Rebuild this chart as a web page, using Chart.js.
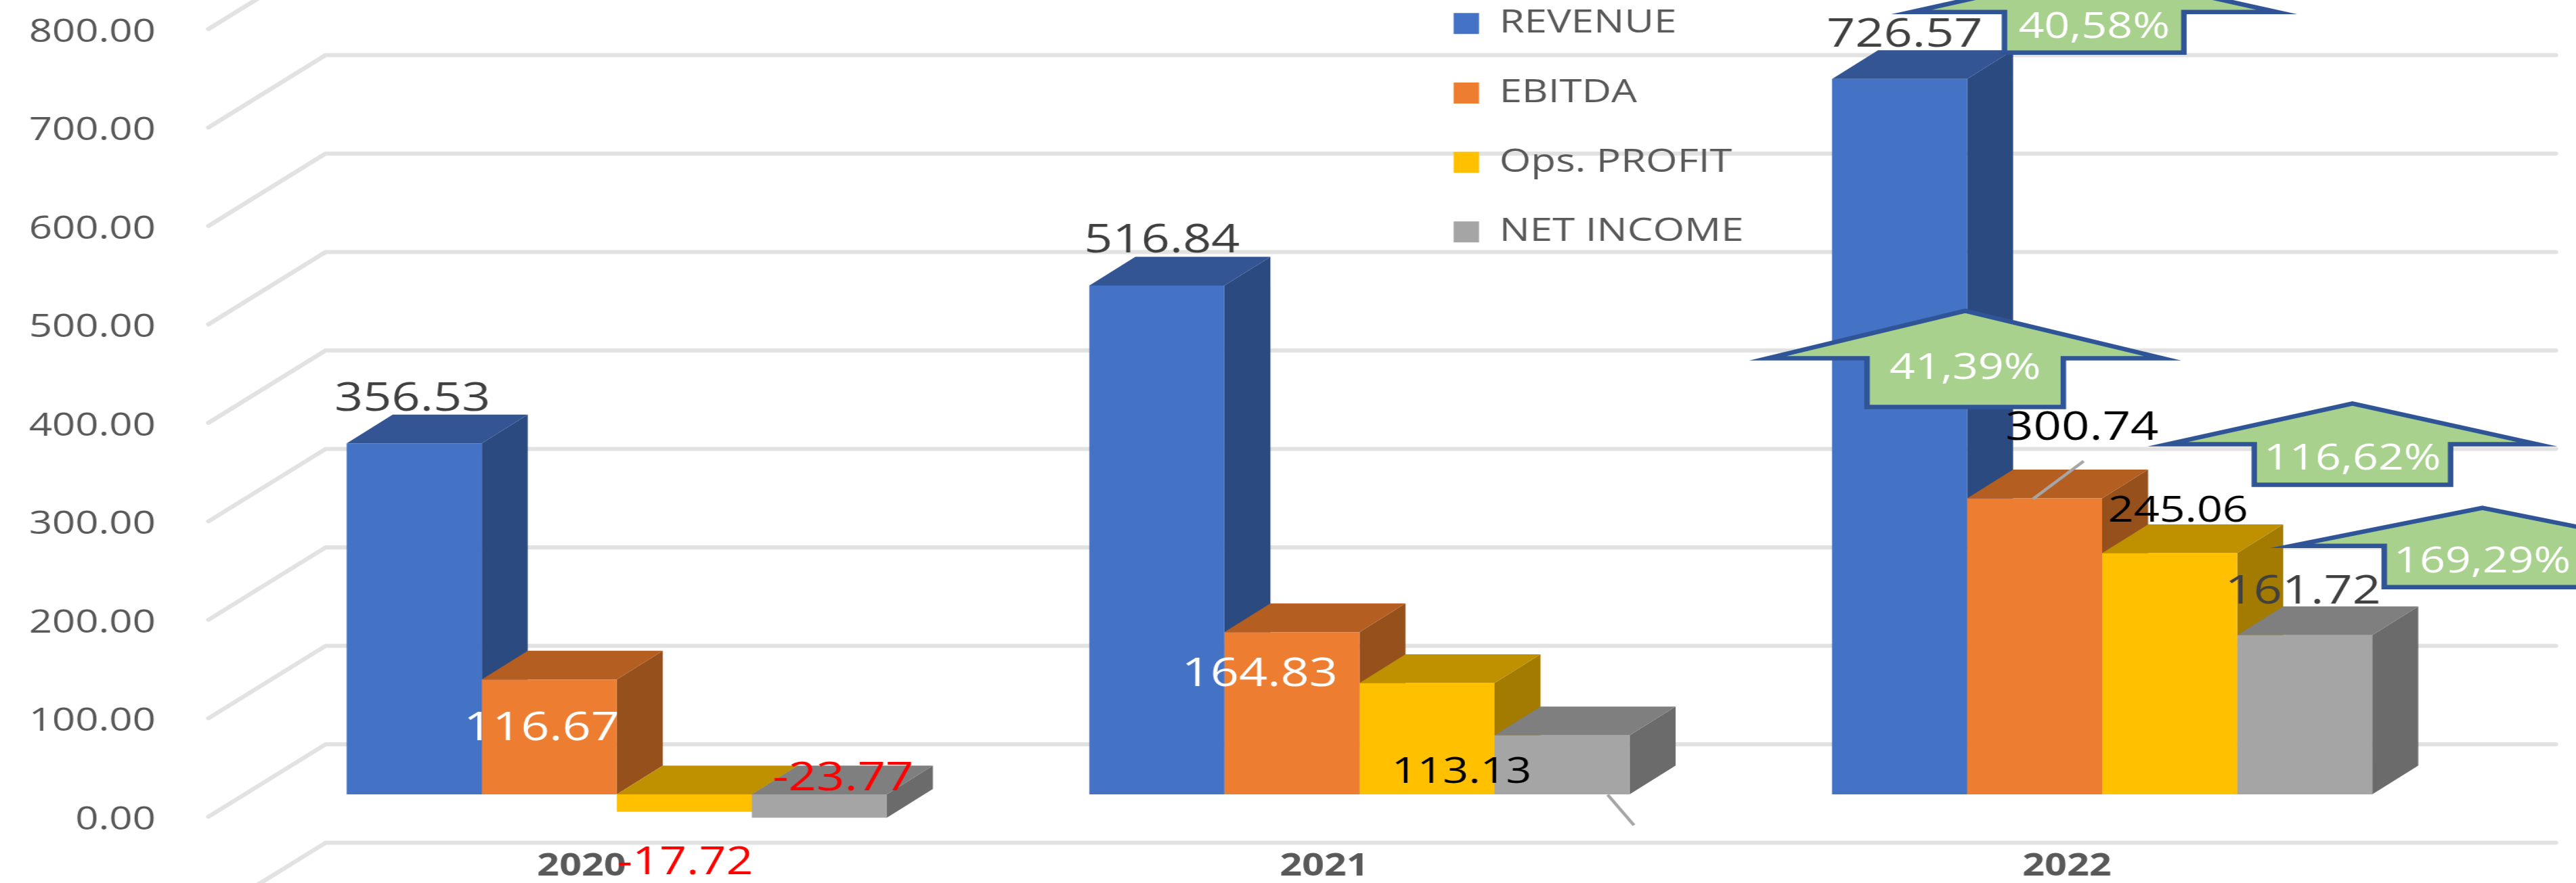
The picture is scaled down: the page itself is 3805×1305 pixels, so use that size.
<!DOCTYPE html>
<html lang="en">
<head>
    <meta charset="UTF-8">
    <title>Revenue, EBITDA, Ops. Profit, Net Income</title>
    <script src="https://cdn.jsdelivr.net/npm/chart.js"></script>
    <style>
        html, body { margin: 0; background: #fff; overflow: hidden; }
        /* the reference is a stretched picture, so the whole canvas is stretched too */
        #chart { display: block; transform: scaleX(1.25); transform-origin: 0 0; }
    </style>
</head>
<body>
<canvas id="chart" width="3044" height="1305"></canvas>

<script>
    const years = ['2020', '2021', '2022'];
    const seriesNames = ['REVENUE', 'EBITDA', 'Ops. PROFIT', 'NET INCOME'];
    const revenue = [356.53, 516.84, 726.57];
    const ebitda = [116.67, 164.83, 300.74];
    const opsProfit = [-17.72, 113.13, 245.06];
    const netIncome = [-23.77, 60, 161.72];   // 2021 has no label in the picture
    const callouts = ['40,58%', '41,39%', '116,62%', '169,29%'];
    const gridValues = [-100, 0, 100, 200, 300, 400, 500, 600, 700, 800];

    const frontColors = ['#4472C4', '#ED7D31', '#FFC000', '#A5A5A5'];
    const topColors = ['#335593', '#B45E22', '#BF9000', '#7F7F7F'];
    const sideColors = ['#2A4A80', '#96501C', '#A37B00', '#6B6B6B'];

    const FONT = '"Open Sans"';
    const DEPTH_X = 54.4;
    const DEPTH_Y = 42.5;

    // per series, per year: label colour, size and shift from the bar top (null = no label)
    const labelColors = [
        ['#404040', '#404040', '#404040'],
        ['#FFFFFF', '#FFFFFF', '#000000'],
        ['#FF0000', '#000000', '#000000'],
        ['#FF0000', null, '#404040']
    ];
    const labelSizes = [
        [59, 59, 59],
        [59, 59, 58],
        [56, 53, 53],
        [58, null, 59]
    ];
    const labelShifts = [
        [[-2, -65], [6, -66], [6, -65]],
        [[-9, 73], [-38, 63], [56, -103]],
        [[1, 76], [41, 133], [10, -62]],
        [[28, -57], null, [-2, -64]]
    ];
    // leader lines: series, year, then both ends relative to the bar top
    const leaders = [
        [3, 1, 54, 88, 85, 133],
        [1, 2, -2, 1, 58, -55]
    ];
    // green arrows, all on the 2022 bars
    const arrowStyles = [
        {series: 0, dx: 230, tip: -159, halfHead: 216, halfShaft: 106, head: 60, shaft: 60, text: 23},
        {series: 1, dx: -82, tip: -277, halfHead: 233, halfShaft: 116, head: 70, shaft: 72, text: 15},
        {series: 2, dx: 216, tip: -221, halfHead: 218, halfShaft: 116, head: 60, shaft: 60, text: 22},
        {series: 3, dx: 210, tip: -188, halfHead: 225, halfShaft: 116, head: 56, shaft: 61, text: 24}
    ];

    function polygon(ctx, color, points) {
        ctx.fillStyle = color;
        ctx.beginPath();
        points.forEach((p, i) => i ? ctx.lineTo(p[0], p[1]) : ctx.moveTo(p[0], p[1]));
        ctx.closePath();
        ctx.fill();
    }

    // floor/wall lines: start at the tick label, run back in depth, then along the wall
    const wallGrid = {
        id: 'wallGrid',
        beforeDraw(chart) {
            const ctx = chart.ctx;
            const wall = chart.scales.yWall;
            ctx.save();
            ctx.strokeStyle = '#E2E2E2';
            ctx.lineWidth = 6;
            ctx.lineCap = 'round';
            ctx.lineJoin = 'round';
            gridValues.forEach(v => {
                const y = wall.getPixelForValue(v);
                ctx.beginPath();
                ctx.moveTo(246.4, y);
                ctx.lineTo(384.8, y - 107);
                ctx.lineTo(3020, y - 107);
                ctx.stroke();
            });
            ctx.restore();
        }
    };

    // top and side faces behind the flat bars that chart.js draws
    const barFaces = {
        id: 'barFaces',
        beforeDatasetsDraw(chart) {
            const ctx = chart.ctx;
            chart.data.datasets.forEach((ds, s) => {
                chart.getDatasetMeta(s).data.forEach(bar => {
                    const left = bar.x - bar.width / 2;
                    const right = bar.x + bar.width / 2;
                    const top = Math.min(bar.y, bar.base);
                    const bottom = Math.max(bar.y, bar.base);
                    polygon(ctx, sideColors[s], [[right, top], [right + DEPTH_X, top - DEPTH_Y],
                        [right + DEPTH_X, bottom - DEPTH_Y], [right, bottom]]);
                    polygon(ctx, topColors[s], [[left, top], [right, top],
                        [right + DEPTH_X, top - DEPTH_Y], [left + DEPTH_X, top - DEPTH_Y]]);
                });
            });
        }
    };

    const annotations = {
        id: 'annotations',
        afterDatasetsDraw(chart) {
            const ctx = chart.ctx;
            ctx.save();

            ctx.strokeStyle = '#A6A6A6';
            ctx.lineWidth = 4;
            leaders.forEach(l => {
                const bar = chart.getDatasetMeta(l[0]).data[l[1]];
                ctx.beginPath();
                ctx.moveTo(bar.x + l[2], bar.y + l[3]);
                ctx.lineTo(bar.x + l[4], bar.y + l[5]);
                ctx.stroke();
            });

            ctx.textAlign = 'center';
            ctx.textBaseline = 'middle';

            arrowStyles.forEach((a, i) => {
                const bar = chart.getDatasetMeta(a.series).data[2];
                const cx = bar.x + a.dx;
                const tip = bar.y + a.tip;
                const base = tip + a.head;
                const end = base + a.shaft;
                ctx.beginPath();
                ctx.moveTo(cx, tip);
                ctx.lineTo(cx + a.halfHead, base);
                ctx.lineTo(cx + a.halfShaft, base);
                ctx.lineTo(cx + a.halfShaft, end);
                ctx.lineTo(cx - a.halfShaft, end);
                ctx.lineTo(cx - a.halfShaft, base);
                ctx.lineTo(cx - a.halfHead, base);
                ctx.closePath();
                ctx.fillStyle = '#A9D18E';
                ctx.fill();
                ctx.strokeStyle = '#2F5597';
                ctx.lineWidth = 6.5;
                ctx.stroke();
                ctx.fillStyle = '#FFFFFF';
                ctx.font = '53px ' + FONT;
                ctx.fillText(callouts[i], cx, base + a.text);
            });

            chart.data.datasets.forEach((ds, s) => {
                chart.getDatasetMeta(s).data.forEach((bar, i) => {
                    if (!labelColors[s][i]) return;
                    ctx.fillStyle = labelColors[s][i];
                    ctx.font = labelSizes[s][i] + 'px ' + FONT;
                    ctx.fillText(ds.data[i].toFixed(2), bar.x + labelShifts[s][i][0], bar.y + labelShifts[s][i][1]);
                });
            });
            ctx.restore();
        }
    };

    // legend floats over the wall at a fixed place
    const legendPlace = {
        id: 'legendPlace',
        afterLayout(chart) {
            chart.legend.left = 1663;
            chart.legend.top = -44;
            chart.legend.bottom = 1305;
        }
    };

    function noPadding(scale) {
        scale.paddingTop = scale.paddingBottom = scale.paddingLeft = scale.paddingRight = 0;
    }

    new Chart(document.getElementById('chart'), {
        type: 'bar',
        data: {
            labels: years,
            datasets: [revenue, ebitda, opsProfit, netIncome].map((values, i) => ({
                label: seriesNames[i],
                data: values,
                backgroundColor: frontColors[i],
                borderWidth: 0,
                yAxisID: 'y',
                categoryPercentage: 0.7274,
                barPercentage: 1
            }))
        },
        plugins: [wallGrid, barFaces, annotations, legendPlace],
        options: {
            responsive: false,
            animation: false,
            layout: {padding: {left: 0, top: 0, bottom: 0, right: 121.2}},
            plugins: {
                tooltip: {enabled: false},
                legend: {
                    position: 'chartArea',
                    align: 'start',
                    labels: {
                        boxWidth: 30,
                        boxHeight: 31,
                        padding: 54.7,
                        color: '#595959',
                        font: {family: FONT, size: 48}
                    }
                }
            },
            scales: {
                x: {
                    grid: {display: false},
                    border: {display: false},
                    afterFit(scale) { noPadding(scale); scale.height = 65; },
                    ticks: {
                        color: '#595959',
                        font: {family: FONT, size: 46, weight: 'bold'},
                        padding: 5,
                        labelOffset: -41.6,
                        maxRotation: 0
                    }
                },
                // the bars stand 33px above the wall's tick positions
                y: {
                    display: false,
                    min: -45.36,
                    max: 806.87
                },
                yWall: {
                    position: 'left',
                    min: -22.68,
                    max: 829.55,
                    grid: {display: false},
                    border: {display: false},
                    afterFit(scale) { noPadding(scale); scale.width = 290; },
                    ticks: {
                        stepSize: 100,
                        includeBounds: false,
                        padding: 98,
                        labelOffset: 5,
                        color: '#595959',
                        font: {family: FONT, size: 48},
                        callback: v => v.toFixed(2)
                    }
                }
            }
        }
    });
</script>
</body>
</html>
